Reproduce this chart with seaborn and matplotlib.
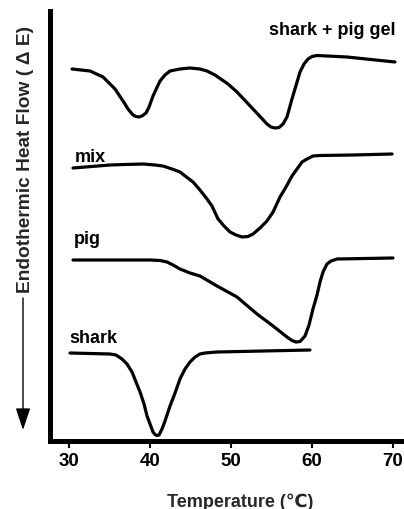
import matplotlib
matplotlib.use("Agg")
import matplotlib.pyplot as plt
import seaborn as sns
import pandas as pd

# ---- data (temperature in °C, heat flow in arbitrary units) ----
gel_T = [30.37, 32.59, 34.20, 35.68, 36.91, 37.28, 37.90, 38.27, 38.64, 39.01, 39.51,
         39.88, 40.37, 41.23, 41.85, 42.47, 43.70, 44.94, 46.17, 47.04, 48.02, 49.63,
         50.74, 52.72, 54.44, 54.94, 55.43, 55.93, 56.42, 56.91, 57.53, 58.52, 59.01,
         59.51, 60.00, 60.62, 64.32, 70.25]
gel_E = [37.2, 37.0, 36.4, 35.2, 33.7, 33.2, 32.6, 32.45, 32.4, 32.5, 32.8,
         33.4, 34.5, 36.0, 36.6, 37.0, 37.2, 37.3, 37.2, 37.0, 36.6, 35.7,
         34.9, 33.2, 31.7, 31.4, 31.3, 31.35, 31.7, 32.4, 34.2, 36.9, 37.7,
         38.2, 38.45, 38.55, 38.4, 37.9]

mix_T = [30.49, 35.06, 36.91, 39.14, 40.62, 41.60, 42.72, 43.70, 45.31, 46.17, 47.04,
         47.65, 48.40, 49.14, 49.88, 50.62, 51.36, 52.10, 52.72, 53.58, 54.44, 55.19,
         56.05, 56.79, 57.53, 58.15, 58.77, 59.38, 60.12, 60.99, 65.06, 69.88]
mix_E = [27.3, 27.6, 27.65, 27.7, 27.6, 27.5, 27.2, 26.9, 25.9, 25.1, 24.2,
         23.5, 22.2, 21.5, 20.9, 20.6, 20.4, 20.45, 20.7, 21.3, 22.0, 22.9,
         24.4, 25.4, 26.5, 27.2, 27.9, 28.2, 28.5, 28.55, 28.6, 28.7]

pig_T = [30.49, 40.00, 41.23, 42.10, 42.84, 43.70, 44.94, 46.17, 48.27, 50.74, 53.21,
         55.19, 56.91, 57.53, 58.02, 58.52, 59.14, 59.63, 60.12, 60.62, 60.99, 61.36,
         61.85, 62.35, 63.09, 70.00]
pig_E = [18.1, 18.1, 18.05, 17.9, 17.6, 17.2, 16.8, 16.5, 15.5, 14.4, 12.7,
         11.5, 10.4, 10.05, 9.9, 9.95, 10.5, 11.6, 13.2, 14.6, 15.9, 16.9,
         17.7, 18.0, 18.2, 18.3]

shark_T = [30.12, 35.06, 35.80, 36.54, 37.16, 37.78, 38.27, 38.77, 39.26, 39.63, 40.00,
           40.37, 40.62, 40.86, 41.11, 41.48, 41.85, 42.47, 43.09, 43.70, 44.32, 44.94,
           45.56, 46.17, 46.79, 48.27, 59.75]
shark_E = [8.8, 8.7, 8.6, 8.2, 7.7, 6.9, 5.9, 4.9, 3.7, 2.5, 1.7,
           0.9, 0.65, 0.55, 0.6, 1.2, 2.0, 3.5, 4.8, 6.2, 7.2, 7.9,
           8.4, 8.7, 8.8, 8.9, 9.1]

curve_names = ["shark + pig gel", "mix", "pig", "shark"]
x_ticks = [30, 40, 50, 60, 70]
x_label = "Temperature (\u2103)"
y_label = "Endothermic Heat Flow ( \u0394 E)"

# ---- build long-form table ----
frames = []
for name, T, E in zip(curve_names, [gel_T, mix_T, pig_T, shark_T],
                      [gel_E, mix_E, pig_E, shark_E]):
    frames.append(pd.DataFrame({"T": T, "E": E, "curve": name}))
df = pd.concat(frames, ignore_index=True)

sns.set_theme(style="white")
plt.rcParams["font.family"] = ["Liberation Sans", "DejaVu Sans"]
plt.rcParams["font.weight"] = "bold"

W, H = 404, 510
fig = plt.figure(figsize=(W / 100, H / 100), dpi=100)
ax = fig.add_axes([50 / W, (H - 442) / H, 354 / W, 430 / H])

sns.lineplot(data=df, x="T", y="E", hue="curve", units="curve", estimator=None,
             sort=False, palette=["black"] * 4, linewidth=2.3, legend=False, ax=ax)
for ln in ax.get_lines():
    ln.set_solid_joinstyle("round")
    ln.set_solid_capstyle("round")

ax.set_xlim(27.65, 71.36)
ax.set_ylim(0, 43)
ax.set_xticks(x_ticks)
ax.set_xticklabels([str(t) for t in x_ticks], fontsize=13.5, fontweight="bold")
ax.set_yticks([])
ax.set_xlabel("")
ax.set_ylabel("")
ax.tick_params(axis="x", direction="out", length=5, width=1.5, pad=3, colors="black",
               bottom=True)

for side in ["top", "right"]:
    ax.spines[side].set_visible(False)
for side in ["left", "bottom"]:
    ax.spines[side].set_color("black")
    ax.spines[side].set_linewidth(3.6)

# curve labels
lab_kw = dict(fontsize=13, fontweight="bold", color="black", va="baseline")
ax.text(70.25, 40.7, curve_names[0], ha="right", **lab_kw)
ax.text(30.7, 28.0, curve_names[1], ha="left", **lab_kw)
ax.text(30.6, 19.8, curve_names[2], ha="left", **lab_kw)
ax.text(30.1, 9.9, curve_names[3], ha="left", **lab_kw)

# axis titles
fig.text(240 / W, 1 - 502 / H, x_label, ha="center", va="center",
         fontsize=13, fontweight="bold")
fig.text(26 / W, 1 - 159 / H, y_label, ha="center", va="center", rotation=90,
         fontsize=13.8, fontweight="bold")

# arrow under the y label
ax.annotate("", xy=(23, H - 431), xytext=(23, H - 299), xycoords="figure pixels",
            textcoords="figure pixels",
            arrowprops=dict(arrowstyle="-|>,head_length=0.9,head_width=0.3",
                            color="black", lw=1.0, mutation_scale=15,
                            shrinkA=0, shrinkB=0))

fig.savefig("out.png", dpi=100)
